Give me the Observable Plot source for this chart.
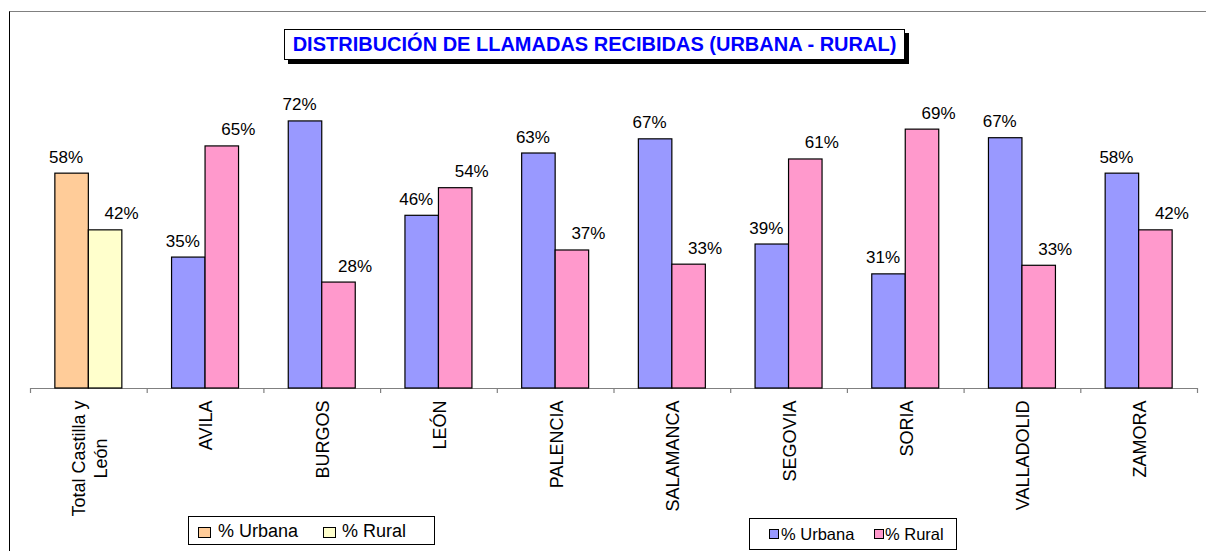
<!DOCTYPE html>
<html>
<head>
<meta charset="utf-8">
<script src="https://cdn.jsdelivr.net/npm/d3@7"></script>
<script src="https://cdn.jsdelivr.net/npm/@observablehq/plot@0.6"></script>
<style>
  html, body { margin: 0; padding: 0; background: #fff; }
  body { font-family: "Liberation Sans", Arial, sans-serif; }
  #wrap { position: relative; width: 1206px; height: 551px; overflow: hidden; }
  #frame { position: absolute; left: 9px; top: 11px; width: 1200px; height: 545px;
           border-top: 1.5px solid #808080; border-left: 1px solid #000; box-sizing: border-box; }
  #chart { position: absolute; left: 0; top: 0; }
  #title { position: absolute; left: 284px; top: 29px; width: 621px; height: 31px; box-sizing: border-box;
           border: 1px solid #000; background: #fff; box-shadow: 4px 4px 0 #000;
           color: #0000ff; font-weight: bold; font-size: 20px; line-height: 29px; text-align: center; white-space: nowrap; }
  .legend { position: absolute; border: 1px solid #000; background: #fff; box-sizing: border-box; }
  .sw { position: absolute; border: 1px solid #000; box-sizing: border-box; }
  .lt { position: absolute; white-space: nowrap; color: #000; }
</style>
</head>
<body>
<div id="wrap">
  <div id="frame"></div>
  <div id="chart"></div>
  <div id="title"></div>
  <div id="legend1" class="legend" style="left:188px; top:516px; width:247px; height:29px;"></div>
  <div id="legend2" class="legend" style="left:749px; top:518px; width:208px; height:32px;"></div>
</div>
<script>
// ---- data ----
const titleText = "DISTRIBUCIÓN DE LLAMADAS RECIBIDAS (URBANA - RURAL)";
const categories = ["Total Castilla y León", "AVILA", "BURGOS", "LEÓN", "PALENCIA", "SALAMANCA", "SEGOVIA", "SORIA", "VALLADOLID", "ZAMORA"];
const tickLabels = ["Total Castilla y\nLeón", "AVILA", "BURGOS", "LEÓN", "PALENCIA", "SALAMANCA", "SEGOVIA", "SORIA", "VALLADOLID", "ZAMORA"];
const urbana = [57.6, 35.1, 71.6, 46.3, 63.0, 66.8, 38.6, 30.6, 67.1, 57.6];
const rural  = [42.4, 64.9, 28.4, 53.7, 37.0, 33.2, 61.4, 69.4, 32.9, 42.4];
const seriesNames = ["% Urbana", "% Rural"];
const totalColors = ["#FFCC99", "#FFFFCC"];
const provColors = ["#9999FF", "#FF99CC"];

// ---- layout ----
const W = 1206, H = 551, mL = 30, mR = 9, mT = 15, mB = 163;
const bandW = (W - mL - mR) / categories.length;
const barW = bandW * 0.287;
const sidePad = (bandW - 2 * barW) / 2;
const font = "'Liberation Sans', Arial, sans-serif";

const rows = categories.map((c, i) => ({cat: c, label: tickLabels[i], urbana: urbana[i], rural: rural[i], idx: i}));
const colA = d => d.idx === 0 ? totalColors[0] : provColors[0];
const colB = d => d.idx === 0 ? totalColors[1] : provColors[1];

const plot = Plot.plot({
  width: W, height: H,
  marginLeft: mL, marginRight: mR, marginTop: mT, marginBottom: mB,
  style: {background: "transparent", fontFamily: font, overflow: "visible"},
  x: {domain: categories, padding: 0, round: false, axis: null},
  y: {domain: [0, 100], axis: null},
  color: {type: "identity"},
  marks: [
    Plot.ruleY([0], {stroke: "#808080", strokeWidth: 1.2}),
    Plot.ruleX(rows, {x: "cat", y1: 0, y2: 0, insetBottom: -5, dx: -bandW / 2, stroke: "#808080", strokeWidth: 1.2}),
    Plot.ruleX(rows.slice(-1), {x: "cat", y1: 0, y2: 0, insetBottom: -5, dx: bandW / 2, stroke: "#808080", strokeWidth: 1.2}),
    Plot.barY(rows, {x: "cat", y: "urbana", fill: colA, stroke: "#000", strokeWidth: 1.2,
      insetLeft: sidePad, insetRight: bandW - sidePad - barW}),
    Plot.barY(rows, {x: "cat", y: "rural", fill: colB, stroke: "#000", strokeWidth: 1.2,
      insetLeft: sidePad + barW, insetRight: sidePad}),
    Plot.text(rows, {x: "cat", y: "urbana", text: d => Math.round(d.urbana) + "%",
      dx: -barW / 2 - 6, dy: -11, lineAnchor: "bottom", fontSize: 17, fill: "#000"}),
    Plot.text(rows, {x: "cat", y: "rural", text: d => Math.round(d.rural) + "%",
      dx: barW / 2 + 16, dy: -11, lineAnchor: "bottom", fontSize: 17, fill: "#000"}),
    Plot.text(rows, {x: "cat", y: () => 0, text: "label", rotate: -90, textAnchor: "end",
      lineAnchor: "middle", lineHeight: 1.2, dy: 12, fontSize: 18, fill: "#000"})
  ]
});
document.getElementById("chart").appendChild(plot);

// center multi-line category labels (Excel centers wrapped lines)
plot.querySelectorAll("text").forEach(t => {
  const ts = t.querySelectorAll("tspan");
  if (ts.length > 1) {
    const maxLen = Math.max(...Array.from(ts, s => s.getComputedTextLength()));
    t.setAttribute("text-anchor", "middle");
    ts.forEach(s => s.setAttribute("x", -maxLen / 2));
  }
});

document.getElementById("title").textContent = titleText;

function legend(el, colors, cfg) {
  cfg.items.forEach((it, i) => {
    const sw = document.createElement("div");
    sw.className = "sw";
    sw.style.cssText = `left:${it.sx}px; top:${cfg.sy}px; width:${cfg.sw}px; height:${cfg.sh}px; background:${colors[i]};`;
    el.appendChild(sw);
    const tx = document.createElement("div");
    tx.className = "lt";
    tx.style.cssText = `left:${it.tx}px; top:${cfg.ty}px; font-size:${cfg.fs}px; line-height:${cfg.fs}px;`;
    tx.textContent = seriesNames[i];
    el.appendChild(tx);
  });
}
legend(document.getElementById("legend1"), totalColors,
  {sy: 10, sw: 13, sh: 11, ty: 5, fs: 18, items: [{sx: 9, tx: 29}, {sx: 134, tx: 153}]});
legend(document.getElementById("legend2"), provColors,
  {sy: 10, sw: 10, sh: 10, ty: 7, fs: 16.5, items: [{sx: 19, tx: 31}, {sx: 124, tx: 135}]});
</script>
</body>
</html>
